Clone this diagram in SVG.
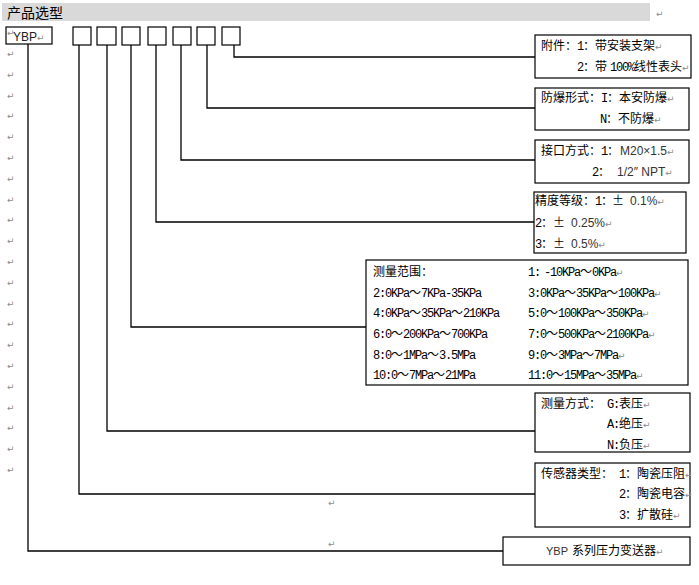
<svg xmlns="http://www.w3.org/2000/svg" width="699" height="585" viewBox="0 0 699 585">
<style>
.c{font-family:"Noto Sans CJK SC",sans-serif;font-size:12px;fill:#000}
.m{font-family:"Liberation Mono","Noto Sans CJK SC",monospace;font-size:12px;letter-spacing:-1.2px}
.s{font-family:"Liberation Sans","Noto Sans CJK SC",sans-serif;font-size:12px;fill:#333}
.p{font-family:"DejaVu Sans",sans-serif;font-size:9px;fill:#8c8c8c;letter-spacing:0}
.box{fill:#fff;stroke:#000;stroke-width:1.2}
.ln{fill:none;stroke:#000;stroke-width:1.3}
</style>
<rect width="699" height="585" fill="#fff"/>
<g id="title">
<rect x="2" y="3" width="648" height="18" fill="#d9d9d9"/>
<text x="7" y="18" style="font-family:'Noto Sans CJK SC',sans-serif;font-size:14px">产品选型</text>
<text class="p" x="656" y="17">↵</text>
</g>
<g id="marks" class="p">
<text x="7" y="57">↵</text><text x="7" y="78">↵</text><text x="7" y="99">↵</text><text x="7" y="119">↵</text><text x="7" y="140">↵</text><text x="7" y="161">↵</text><text x="7" y="182">↵</text><text x="7" y="203">↵</text><text x="7" y="223">↵</text><text x="7" y="244">↵</text><text x="7" y="265">↵</text><text x="7" y="286">↵</text><text x="7" y="307">↵</text><text x="7" y="327">↵</text><text x="7" y="348">↵</text><text x="7" y="369">↵</text><text x="7" y="390">↵</text><text x="7" y="411">↵</text><text x="7" y="431">↵</text><text x="7" y="452">↵</text><text x="7" y="473">↵</text>
<text x="328" y="506">↵</text><text x="328" y="547">↵</text>
</g>
<g id="connectors">
<path class="ln" d="M234 45V57H535"/>
<path class="ln" d="M207 45V108H535"/>
<path class="ln" d="M181 45V160H535"/>
<path class="ln" d="M156 45V222H534"/>
<path class="ln" d="M131 45V327H366"/>
<path class="ln" d="M107 45V431H535"/>
<path class="ln" d="M79 45V494H535"/>
<path class="ln" d="M28 44V551H503"/>
</g>
<g id="code-ybp">
<rect class="box" x="6" y="27" width="46" height="17"/>
<text class="p" x="7" y="36">↵</text>
<text x="13" y="41" class="s" style="fill:#222">YBP<tspan class="p">↵</tspan></text>
</g>
<g id="slot1"><rect class="box" x="73" y="27" width="18" height="18"/></g>
<g id="slot2"><rect class="box" x="97" y="27" width="19" height="18"/></g>
<g id="slot3"><rect class="box" x="122" y="27" width="18" height="18"/></g>
<g id="slot4"><rect class="box" x="148" y="27" width="18" height="18"/></g>
<g id="slot5"><rect class="box" x="173" y="27" width="18" height="18"/></g>
<g id="slot6"><rect class="box" x="197" y="27" width="18" height="18"/></g>
<g id="slot7"><rect class="box" x="222" y="27" width="18" height="18"/></g>
<g id="accessory">
<rect class="box" x="535" y="35" width="156" height="43"/>
<text class="c" x="541" y="50">附件：<tspan class="m">1</tspan>：带安装支架<tspan class="p">↵</tspan></text>
<text class="c" x="577" y="71"><tspan class="m">2</tspan>：带<tspan class="m" x="610">100%</tspan>线性表头<tspan class="p">↵</tspan></text>
</g>
<g id="explosion">
<rect class="box" x="535" y="88" width="154" height="42"/>
<text class="c" x="541" y="102">防爆形式：<tspan class="m">I</tspan>：本安防爆<tspan class="p">↵</tspan></text>
<text class="c" x="600" y="123"><tspan class="m">N</tspan>：不防爆<tspan class="p">↵</tspan></text>
</g>
<g id="interface">
<rect class="box" x="535" y="140" width="154" height="43"/>
<text class="c" x="541" y="155">接口方式：<tspan class="m">1</tspan>：<tspan class="s" x="620">M20×1.5</tspan><tspan class="p">↵</tspan></text>
<text class="c" x="592" y="176"><tspan class="m">2</tspan>：<tspan class="s" x="617">1/2″ NPT</tspan><tspan class="p">↵</tspan></text>
</g>
<g id="accuracy">
<rect class="box" x="534" y="192" width="152" height="61"/>
<text class="c" x="535" y="205">精度等级：<tspan class="m">1</tspan>：<tspan x="612">±</tspan><tspan class="s" x="630">0.1%</tspan><tspan class="p">↵</tspan></text>
<text class="c" x="535" y="227"><tspan class="m">2</tspan>：<tspan x="553">±</tspan><tspan class="s" x="571">0.25%</tspan><tspan class="p">↵</tspan></text>
<text class="c" x="535" y="248"><tspan class="m">3</tspan>：<tspan x="553">±</tspan><tspan class="s" x="571">0.5%</tspan><tspan class="p">↵</tspan></text>
</g>
<g id="range">
<rect class="box" x="366" y="260" width="322" height="125"/>
<text class="c" x="373" y="276">测量范围：</text>
<text class="c" x="528" y="276"><tspan class="m">1:</tspan><tspan class="m" x="544">-10KPa</tspan>～<tspan class="m">0KPa</tspan><tspan class="p">↵</tspan></text>
<text class="c" x="373" y="297"><tspan class="m">2:0KPa</tspan>～<tspan class="m">7KPa-35KPa</tspan></text>
<text class="c" x="528" y="297"><tspan class="m">3:0KPa</tspan>～<tspan class="m">35KPa</tspan>～<tspan class="m">100KPa</tspan><tspan class="p">↵</tspan></text>
<text class="c" x="373" y="317"><tspan class="m">4:0KPa</tspan>～<tspan class="m">35KPa</tspan>～<tspan class="m">210KPa</tspan></text>
<text class="c" x="528" y="317"><tspan class="m">5:0</tspan>～<tspan class="m">100KPa</tspan>～<tspan class="m">350KPa</tspan><tspan class="p">↵</tspan></text>
<text class="c" x="373" y="338"><tspan class="m">6:0</tspan>～<tspan class="m">200KPa</tspan>～<tspan class="m">700KPa</tspan></text>
<text class="c" x="528" y="338"><tspan class="m">7:0</tspan>～<tspan class="m">500KPa</tspan>～<tspan class="m">2100KPa</tspan><tspan class="p">↵</tspan></text>
<text class="c" x="373" y="359"><tspan class="m">8:0</tspan>～<tspan class="m">1MPa</tspan>～<tspan class="m">3.5MPa</tspan></text>
<text class="c" x="528" y="359"><tspan class="m">9:0</tspan>～<tspan class="m">3MPa</tspan>～<tspan class="m">7MPa</tspan><tspan class="p">↵</tspan></text>
<text class="c" x="373" y="379"><tspan class="m">10:0</tspan>～<tspan class="m">7MPa</tspan>～<tspan class="m">21MPa</tspan></text>
<text class="c" x="528" y="379"><tspan class="m">11:0</tspan>～<tspan class="m">15MPa</tspan>～<tspan class="m">35MPa</tspan><tspan class="p">↵</tspan></text>
</g>
<g id="mode">
<rect class="box" x="535" y="393" width="155" height="59"/>
<text class="c" x="541" y="408">测量方式：<tspan class="m" x="607">G:</tspan>表压<tspan class="p">↵</tspan></text>
<text class="c" x="607" y="428"><tspan class="m">A:</tspan>绝压<tspan class="p">↵</tspan></text>
<text class="c" x="607" y="449"><tspan class="m">N:</tspan>负压<tspan class="p">↵</tspan></text>
</g>
<g id="sensor">
<rect class="box" x="535" y="463" width="155" height="64"/>
<text class="c" x="541" y="478">传感器类型：<tspan class="m" x="619">1</tspan>：陶瓷压阻<tspan class="p">↵</tspan></text>
<text class="c" x="619" y="498"><tspan class="m">2</tspan>：陶瓷电容<tspan class="p">↵</tspan></text>
<text class="c" x="619" y="519"><tspan class="m">3</tspan>：扩散硅<tspan class="p">↵</tspan></text>
</g>
<g id="series">
<rect class="box" x="503" y="537" width="187" height="28"/>
<text class="c" x="546" y="555"><tspan class="s" style="font-size:11px">YBP</tspan><tspan x="572">系列压力变送器</tspan><tspan class="p">↵</tspan></text>
</g>
</svg>
